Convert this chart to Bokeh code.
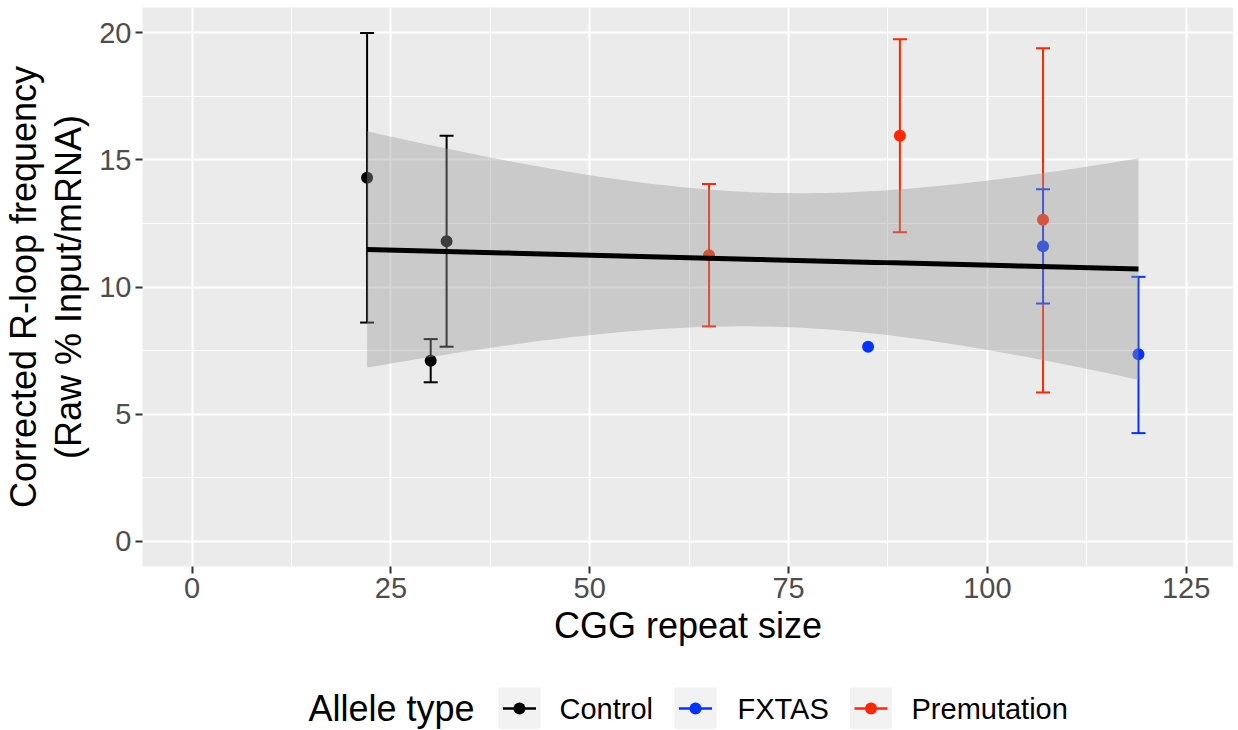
import numpy as np
from bokeh.plotting import figure
from bokeh.models import FixedTicker, Range1d
from bokeh.layouts import column
from bokeh.embed import file_html
from bokeh.resources import INLINE
from bokeh.core.properties import value

# ---------------- data ----------------
groups = ["Control", "FXTAS", "Premutation"]
group_colors = ["#000000", "#0433FF", "#FF2600"]

allele = ["Control", "Control", "Control",
          "Premutation", "Premutation", "Premutation",
          "FXTAS", "FXTAS", "FXTAS"]
cgg = [22, 30, 32, 65, 89, 107, 85, 107, 119]
rloop = [14.3, 7.1, 11.8, 11.25, 15.95, 12.65, 7.65, 11.6, 7.35]
err_low = [8.6, 6.25, 7.65, 8.45, 12.15, 5.85, np.nan, 9.35, 4.25]
err_high = [20.0, 7.95, 15.95, 14.05, 19.75, 19.4, np.nan, 13.85, 10.4]

x_ticks = [0, 25, 50, 75, 100, 125]
x_minor = [12.5, 37.5, 62.5, 87.5, 112.5]
y_ticks = [0, 5, 10, 15, 20]
y_minor = [2.5, 7.5, 12.5, 17.5]

FONT = "Liberation Sans"
cmap = dict(zip(groups, group_colors))

# ---------------- main plot ----------------
p = figure(frame_width=1091, frame_height=559,
           x_range=Range1d(-6.24, 130.95), y_range=Range1d(-1.0, 21.0),
           min_border_left=141, min_border_right=0, min_border_top=7, min_border_bottom=92,
           output_backend="svg", toolbar_location=None)
p.background_fill_color = "#EBEBEB"
p.border_fill_color = "white"
p.outline_line_color = None

p.xaxis.ticker = FixedTicker(ticks=x_ticks, minor_ticks=x_minor)
p.yaxis.ticker = FixedTicker(ticks=y_ticks, minor_ticks=y_minor)
for ax in (p.xaxis, p.yaxis):
    ax.axis_line_color = None
    ax.major_tick_line_color = "#333333"
    ax.major_tick_line_width = 2
    ax.major_tick_out = 7
    ax.major_tick_in = 0
    ax.minor_tick_out = 0
    ax.minor_tick_in = 0
    ax.major_label_text_font = FONT
    ax.major_label_text_font_size = "29px"
    ax.major_label_text_color = "#4D4D4D"
    ax.major_label_standoff = 4
    ax.axis_label_text_font = FONT
    ax.axis_label_text_font_size = "36px"
    ax.axis_label_text_font_style = "normal"
    ax.axis_label_text_color = "black"

p.xaxis.axis_label = "CGG repeat size"
p.xaxis.axis_label_standoff = 4
p.yaxis.axis_label = "Corrected R-loop frequency\n(Raw % Input/mRNA)"
p.yaxis.axis_label_standoff = 7
p.yaxis.axis_label_text_line_height = 1.1

for g in (p.xgrid, p.ygrid):
    g.grid_line_color = "white"
    g.grid_line_width = 2
    g.minor_grid_line_color = "white"
    g.minor_grid_line_width = 1

# error bars
cap_half = 0.88
xe, lo, hi, ce = [], [], [], []
for a, xv, l, h in zip(allele, cgg, err_low, err_high):
    if np.isnan(l) or np.isnan(h):
        continue
    xe.append(xv); lo.append(l); hi.append(h); ce.append(cmap[a])
xe = np.array(xe, float)
p.segment(x0=xe, y0=lo, x1=xe, y1=hi, line_color=ce, line_width=2)
p.segment(x0=xe - cap_half, y0=lo, x1=xe + cap_half, y1=lo, line_color=ce, line_width=2)
p.segment(x0=xe - cap_half, y0=hi, x1=xe + cap_half, y1=hi, line_color=ce, line_width=2)

# points
p.scatter(x=cgg, y=rloop, size=12, marker="circle",
          fill_color=[cmap[a] for a in allele], line_color=None)

# linear fit with 95% CI
xa = np.array(cgg, float)
ya = np.array(rloop, float)
b1, b0 = np.polyfit(xa, ya, 1)
n = len(xa)
resid = ya - (b0 + b1 * xa)
s = np.sqrt((resid ** 2).sum() / (n - 2))
xs = np.linspace(xa.min(), xa.max(), 80)
yhat = b0 + b1 * xs
se = s * np.sqrt(1.0 / n + (xs - xa.mean()) ** 2 / ((xa - xa.mean()) ** 2).sum())
tq = 2.364624  # t(0.975, df=7)
p.varea(x=xs, y1=yhat - tq * se, y2=yhat + tq * se, fill_color="#999999", fill_alpha=0.4)
p.line(x=xs, y=yhat, line_color="black", line_width=5)

# ---------------- legend (separate strip, page-pixel coordinates) ----------------
lg = figure(frame_width=1091, frame_height=71,
            x_range=Range1d(141, 1232), y_range=Range1d(729, 658),
            min_border_left=141, min_border_right=0, min_border_top=0, min_border_bottom=0,
            output_backend="svg", toolbar_location=None)
lg.axis.visible = False
lg.grid.grid_line_color = None
lg.outline_line_color = None
lg.background_fill_color = "white"
lg.border_fill_color = "white"

key_x = np.array([518.0, 694.0, 869.5])
label_x = [558, 736, 910]
key_y = 708
lg.rect(x=key_x, y=key_y, width=42, height=42, fill_color="#F2F2F2", line_color=None)
lg.segment(x0=key_x - 16.5, y0=key_y, x1=key_x + 16.5, y1=key_y,
           line_color=group_colors, line_width=2.5)
lg.scatter(x=key_x, y=key_y, size=12, marker="circle", fill_color=group_colors, line_color=None)
lg.text(x=label_x, y=key_y, text=groups, text_baseline="middle", text_align="left",
        text_font=value(FONT), text_font_size="29px", text_color="black")
lg.text(x=[307], y=[key_y], text=["Allele type"], text_baseline="middle", text_align="left",
        text_font=value(FONT), text_font_size="36px", text_color="black")

layout = column(p, lg, spacing=0)
open("out.html", "w").write(file_html(layout, INLINE))
